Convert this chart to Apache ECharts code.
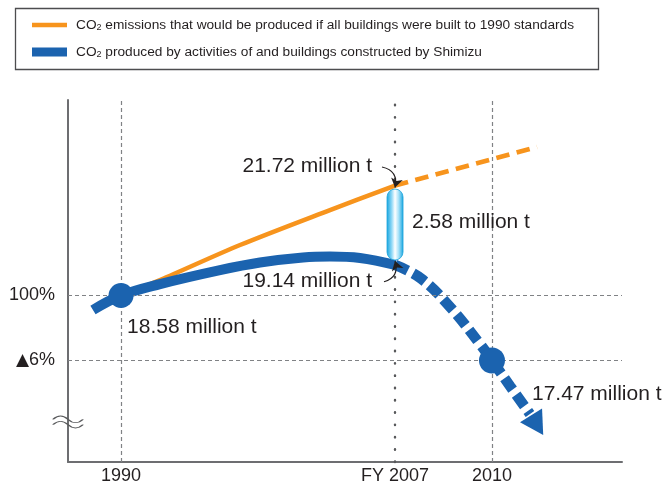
<!DOCTYPE html>
<html>
<head>
<meta charset="utf-8">
<script src="https://cdn.jsdelivr.net/npm/echarts@6.0.0/dist/echarts.min.js"></script>
<style>
  html, body { margin: 0; padding: 0; background: #fff; }
  #chart { width: 665px; height: 481px; }
</style>
</head>
<body>
<div id="chart"></div>
<script>
// schematic chart: x is not to scale in years, y is % of the 1990 level
const xTickPos = [9.57, 59.03, 76.53];
const xTickLabels = ['1990', 'FY 2007', '2010'];
const yTickPos = [100, 94];
const yTickLabels = ['100%', '{tri|▲}6%'];

const orangeSolid = [[9.57, 100], [16.61, 101.43], [31.05, 104.66], [47.29, 107.89], [59.03, 110.15]];
const orangeDashed = [[59.03, 110.15], [84.66, 113.71]];
const blueSolid = [[4.51, 98.66], [9.57, 100], [16.61, 101.06], [27.44, 102.35], [34.66, 103.05],
  [42.42, 103.51], [47.29, 103.6], [52.71, 103.46], [59.03, 102.82]];
const blueDashed = [[59.03, 102.82], [63.72, 101.57], [69.13, 98.85], [74.37, 95.52], [76.53, 94],
  [79.78, 91.65], [83.39, 89.06]];
const arrowHead = [84.68, 88.03];
const gapBar = [59.03, 109.83, 103.28];
// pointers from the FY 2007 labels to the ends of the bar
const pointerTop = [[56.68, 111.86], [59.03, 109.97]];
const pointerBottom = [[57.04, 101.27], [59.03, 103.18]];

// million t
const base1990 = 18.58;
const noAction2007 = 21.72;
const actual2007 = 19.14;
const target2010 = 17.47;
const cut2007 = 2.58;

const ORANGE = '#f7941d';
const BLUE = '#1b63af';
const TEXT = '#231f20';
const FONT = 'Liberation Sans';
const nameOrange = 'CO2 emissions that would be produced if all buildings were built to 1990 standards';
const nameBlue = 'CO2 produced by activities of and buildings constructed by Shimizu';

const mt = v => v.toFixed(2) + ' million t';
const pick = (pos, labels) => v => {
  const i = pos.findIndex(p => Math.abs(p - v) < 1e-6);
  return i < 0 ? '' : labels[i];
};

const dashed = { color: '#808285', width: 1.2, type: [4, 3] };
const dotted = { color: '#58595b', width: 2.4, type: [0.5, 11.8], cap: 'round' };

const legendBase = {
  left: 32, padding: 0, itemWidth: 35, icon: 'rect', selectedMode: false,
  formatter: n => n.replace('CO2', 'CO{s|2}'),
  textStyle: {
    color: TEXT, fontFamily: FONT, fontSize: 13.7, padding: [0, 0, 0, 4],
    rich: { s: { fontFamily: FONT, fontSize: 9, color: TEXT, verticalAlign: 'bottom' } }
  }
};

const chart = echarts.init(document.getElementById('chart'));
chart.setOption({
  animation: false,
  graphic: [{
    type: 'rect', shape: { x: 15.5, y: 8.5, width: 583, height: 61 },
    style: { fill: 'none', stroke: '#4d4d4f', lineWidth: 1.3 }
  }],
  legend: [
    Object.assign({}, legendBase, { top: 18, itemHeight: 4.5, data: [nameOrange] }),
    Object.assign({}, legendBase, { top: 45, itemHeight: 9, data: [nameBlue] })
  ],
  grid: { left: 68, right: 43, top: 100, bottom: 19, outerBoundsMode: 'none', containLabel: false },
  xAxis: {
    type: 'value', min: 0, max: 100,
    axisLine: { lineStyle: { color: '#6d6e71', width: 2 } },
    axisTick: { show: false },
    splitLine: { show: false },
    axisLabel: {
      customValues: xTickPos, formatter: pick(xTickPos, xTickLabels),
      margin: 5, color: TEXT, fontSize: 18, fontFamily: FONT
    }
  },
  yAxis: {
    type: 'value', min: 84.63, max: 118.05,
    axisLine: { show: true, lineStyle: { color: '#6d6e71', width: 2 } },
    axisTick: { show: false },
    splitLine: { show: false },
    axisLabel: {
      customValues: yTickPos, formatter: pick(yTickPos, yTickLabels),
      margin: 13, color: TEXT, fontSize: 18, fontFamily: FONT,
      rich: { tri: { fontFamily: 'DejaVu Sans', fontSize: 17, color: TEXT } }
    }
  },
  series: [
    {
      // guide lines and axis break
      type: 'line', data: [], z: 1, silent: true,
      markLine: {
        silent: true, symbol: ['none', 'none'], label: { show: false },
        data: [
          { xAxis: xTickPos[0], lineStyle: dashed },
          { xAxis: xTickPos[1], lineStyle: dotted },
          { xAxis: xTickPos[2], lineStyle: dashed },
          { yAxis: yTickPos[0], lineStyle: dashed },
          { yAxis: yTickPos[1], lineStyle: dashed }
        ]
      },
      markPoint: {
        silent: true,
        symbol: 'path://M0,4 C4,-1 8,-1 12,4 S20,9 24,4 M0,10 C4,5 8,5 12,10 S20,15 24,10',
        symbolSize: [30, 12],
        itemStyle: { color: 'none', borderColor: '#58595b', borderWidth: 1.3 },
        label: { show: false },
        data: [{ coord: [0, 88.32] }]
      }
    },
    {
      name: nameOrange, type: 'line', data: orangeSolid, smooth: 0.3, showSymbol: false, z: 3,
      color: ORANGE, lineStyle: { color: ORANGE, width: 4.5 }
    },
    {
      name: nameOrange, type: 'line', data: orangeDashed, showSymbol: false, z: 3,
      color: ORANGE, lineStyle: { color: ORANGE, width: 4.7, type: [13.5, 7.5] }
    },
    {
      name: nameBlue, type: 'line', data: blueSolid, smooth: 0.4, showSymbol: false, z: 4,
      color: BLUE, lineStyle: { color: BLUE, width: 10 }
    },
    {
      name: nameBlue, type: 'line', data: blueDashed, smooth: 0.4, showSymbol: false, z: 4,
      color: BLUE, lineStyle: { color: BLUE, width: 10.5, type: [14, 6] }
    },
    {
      // gap between the two curves in FY 2007
      type: 'custom', z: 5, silent: true,
      data: [gapBar],
      renderItem: (params, api) => {
        const top = api.coord([api.value(0), api.value(1)]);
        const bot = api.coord([api.value(0), api.value(2)]);
        const w = 16;
        return {
          type: 'rect',
          shape: { x: top[0] - w / 2, y: top[1], width: w, height: bot[1] - top[1], r: w / 2 },
          style: {
            fill: new echarts.graphic.LinearGradient(0, 0, 1, 0, [
              { offset: 0, color: '#12a3de' },
              { offset: 0.3, color: '#8fd8f6' },
              { offset: 0.5, color: '#ffffff' },
              { offset: 0.72, color: '#a6e1f8' },
              { offset: 1, color: '#12a3de' }
            ]),
            stroke: '#1aa3dc', lineWidth: 0.8
          }
        };
      }
    },
    {
      type: 'lines', coordinateSystem: 'cartesian2d', z: 7, silent: true,
      symbol: ['none', 'arrow'], symbolSize: [6, 9],
      lineStyle: { color: TEXT, width: 1.1, opacity: 1 },
      data: [
        { coords: pointerTop, lineStyle: { curveness: 0.5 } },
        { coords: pointerBottom, lineStyle: { curveness: -0.5 } }
      ]
    },
    {
      type: 'scatter', z: 6, silent: true, color: BLUE, itemStyle: { color: BLUE, opacity: 1 },
      label: { show: true, position: 'right', color: TEXT, fontSize: 21, fontFamily: FONT },
      data: [
        { value: blueSolid[1], symbolSize: 25, label: { offset: [-11.5, 32], formatter: mt(base1990) } },
        { value: blueDashed[4], symbolSize: 26, label: { offset: [22, 33.5], formatter: mt(target2010) } }
      ]
    },
    {
      type: 'scatter', z: 6, silent: true, color: BLUE, itemStyle: { color: BLUE, opacity: 1 },
      data: [{ value: arrowHead, symbol: 'triangle', symbolSize: [26, 23], symbolRotate: -148 }]
    },
    {
      // value labels
      type: 'scatter', z: 7, silent: true, symbolSize: 0, itemStyle: { opacity: 1 },
      label: { show: true, color: TEXT, fontSize: 21, fontFamily: FONT },
      data: [
        { value: orangeSolid[orangeSolid.length - 1], label: { position: 'left', offset: [-18, -19], formatter: mt(noAction2007) } },
        { value: blueSolid[blueSolid.length - 1], label: { position: 'left', offset: [-18, 16.5], formatter: mt(actual2007) } },
        { value: [gapBar[0], (gapBar[1] + gapBar[2]) / 2], label: { position: 'right', offset: [12, -2.5], formatter: mt(cut2007) } }
      ]
    }
  ]
});
</script>
</body>
</html>
